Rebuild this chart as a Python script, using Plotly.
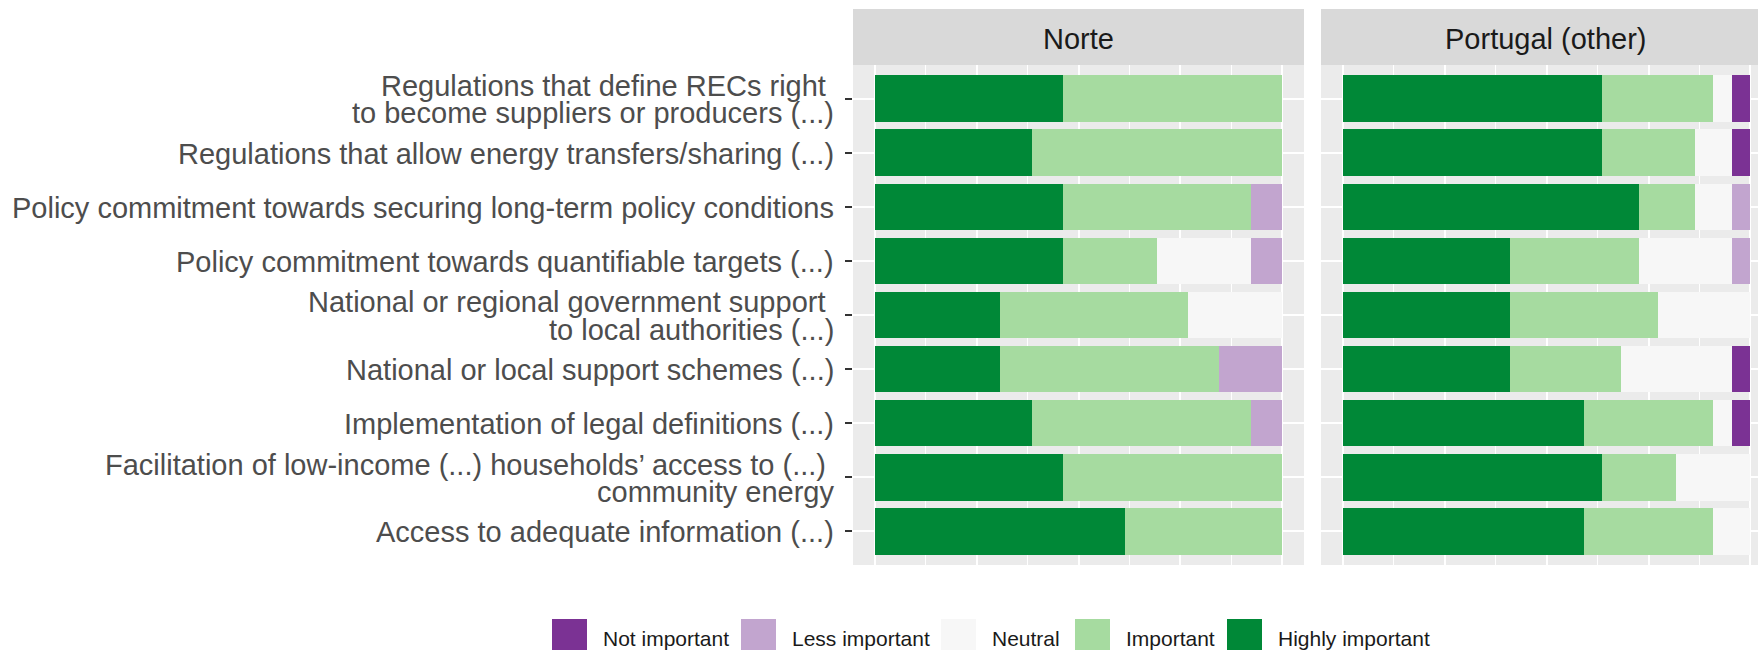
import numpy as np
import plotly.graph_objects as go

# ---------------- data ----------------
categories = [
    "Regulations that define RECs right \nto become suppliers or producers (...)",
    "Regulations that allow energy transfers/sharing (...)",
    "Policy commitment towards securing long-term policy conditions",
    "Policy commitment towards quantifiable targets (...)",
    "National or regional government support \nto local authorities (...)",
    "National or local support schemes (...)",
    "Implementation of legal definitions (...)",
    "Facilitation of low-income (...) households\u2019 access to (...) \ncommunity energy",
    "Access to adequate information (...)",
]
levels = ["Not important", "Less important", "Neutral", "Important", "Highly important"]
level_colors = ["#7B3294", "#C2A5CF", "#F7F7F7", "#A6DBA0", "#008837"]
panels = ["Norte", "Portugal (other)"]

# response counts per category (same order as categories)
norte_not = [0, 0, 0, 0, 0, 0, 0, 0, 0]
norte_less = [0, 0, 1, 1, 0, 2, 1, 0, 0]
norte_neutral = [0, 0, 0, 3, 3, 0, 0, 0, 0]
norte_important = [7, 8, 6, 3, 6, 7, 7, 7, 5]
norte_highly = [6, 5, 6, 6, 4, 4, 5, 6, 8]

portugal_not = [1, 1, 0, 0, 0, 1, 1, 0, 0]
portugal_less = [0, 0, 1, 1, 0, 0, 0, 0, 0]
portugal_neutral = [1, 2, 2, 5, 5, 6, 1, 4, 2]
portugal_important = [6, 5, 3, 7, 8, 6, 7, 4, 7]
portugal_highly = [14, 14, 16, 9, 9, 9, 13, 14, 13]

panel_counts = {
    "Norte": [norte_not, norte_less, norte_neutral, norte_important, norte_highly],
    "Portugal (other)": [portugal_not, portugal_less, portugal_neutral,
                         portugal_important, portugal_highly],
}

# ---------------- layout constants ----------------
W, H = 1758, 650
FONT = "Liberation Sans, Arial, sans-serif"
LABEL_SIZE = 29
STRIP_SIZE = 29
LEGEND_SIZE = 21

def px_x(p):
    return p / W

def px_y(p):
    return (H - p) / H

panel_top, panel_bottom = 65, 565
strip_top = 9
x_domains = [(853, 1304), (1321, 1758)]
x_ranges = [[-0.054, 1.054], [-0.054, 1.0187]]
strip_centers = [1078.5, 1545.5]
strip_right = [1304, 1771]

ncat = len(categories)
y_range = [ncat - 1 + 0.62, -0.62]

fig = go.Figure()

for pi, panel in enumerate(panels):
    counts = np.array(panel_counts[panel], dtype=float)
    totals = counts.sum(axis=0)
    shares = counts / totals
    xa = "x" if pi == 0 else "x2"
    ya = "y" if pi == 0 else "y2"
    # stack from the left: Highly important first
    for li in reversed(range(len(levels))):
        fig.add_trace(go.Bar(
            x=shares[li], y=categories, orientation="h",
            marker=dict(color=level_colors[li], line=dict(width=0)),
            width=0.86, name=levels[li], showlegend=False,
            xaxis=xa, yaxis=ya,
        ))

axis_common = dict(
    showline=False, zeroline=False, showticklabels=False,
    gridcolor="white", gridwidth=2,
)
for pi in range(2):
    suffix = "" if pi == 0 else "2"
    d0, d1 = x_domains[pi]
    fig.layout["xaxis" + suffix] = dict(
        domain=[px_x(d0), min(px_x(d1), 1.0)], range=x_ranges[pi],
        anchor="y" + suffix, dtick=0.25, tick0=0, ticks="",
        minor=dict(dtick=0.125, tick0=0, showgrid=True, gridcolor="white", gridwidth=1),
        **axis_common,
    )
    ydict = dict(
        domain=[px_y(panel_bottom), px_y(panel_top)], range=y_range,
        anchor="x" + suffix, type="category",
        categoryorder="array", categoryarray=categories,
        ticks="outside" if pi == 0 else "", ticklen=7, tickwidth=2,
        tickcolor="#333333",
        **axis_common,
    )
    if pi == 1:
        ydict["matches"] = "y"
    fig.layout["yaxis" + suffix] = ydict

shapes = []
annotations = []

# facet strips
for pi, panel in enumerate(panels):
    d0 = x_domains[pi][0]
    shapes.append(dict(
        type="rect", xref="paper", yref="paper",
        x0=px_x(d0), x1=px_x(strip_right[pi]),
        y0=px_y(panel_top), y1=px_y(strip_top),
        fillcolor="#D9D9D9", line=dict(width=0), layer="below",
    ))
    annotations.append(dict(
        text=panel, xref="paper", yref="paper",
        x=px_x(strip_centers[pi]), y=px_y((panel_top + strip_top) / 2 + 2),
        xanchor="center", yanchor="middle", showarrow=False,
        font=dict(family=FONT, size=STRIP_SIZE, color="#1A1A1A"),
    ))

# category labels (one annotation per text line, right aligned)
LINE_STEP = 27.5
for cat in categories:
    lines = cat.split("\n")
    n = len(lines)
    for i, line in enumerate(lines):
        txt = line.rstrip(" ") + ("\u00a0" if line.endswith(" ") else "")
        annotations.append(dict(
            text=txt, xref="paper", yref="y", x=px_x(836), y=cat,
            xanchor="right", yanchor="middle", showarrow=False,
            yshift=((n - 1) / 2 - i) * LINE_STEP - 1,
            font=dict(family=FONT, size=LABEL_SIZE, color="#4D4D4D"),
        ))

# legend (keys + text)
legend_key_x = [552, 741, 941, 1075, 1227]
KEY = 35
for li, lev in enumerate(levels):
    kx = legend_key_x[li]
    shapes.append(dict(
        type="rect", xref="paper", yref="paper",
        x0=px_x(kx), x1=px_x(kx + KEY), y0=px_y(619 + KEY), y1=px_y(619),
        fillcolor=level_colors[li], line=dict(width=0),
    ))
    annotations.append(dict(
        text=lev, xref="paper", yref="paper",
        x=px_x(kx + KEY + 14), y=px_y(638),
        xanchor="left", yanchor="middle", showarrow=False,
        font=dict(family=FONT, size=LEGEND_SIZE, color="#1A1A1A"),
    ))

fig.update_layout(
    width=W, height=H, autosize=False,
    margin=dict(l=0, r=0, t=0, b=0),
    paper_bgcolor="white", plot_bgcolor="#EBEBEB",
    barmode="stack", bargap=0,
    shapes=shapes, annotations=annotations,
    font=dict(family=FONT),
    showlegend=False,
)

fig.write_html(
    "out.html",
    config={"displayModeBar": False},
    post_script="document.body.style.margin='0';document.body.style.overflow='hidden';",
)
